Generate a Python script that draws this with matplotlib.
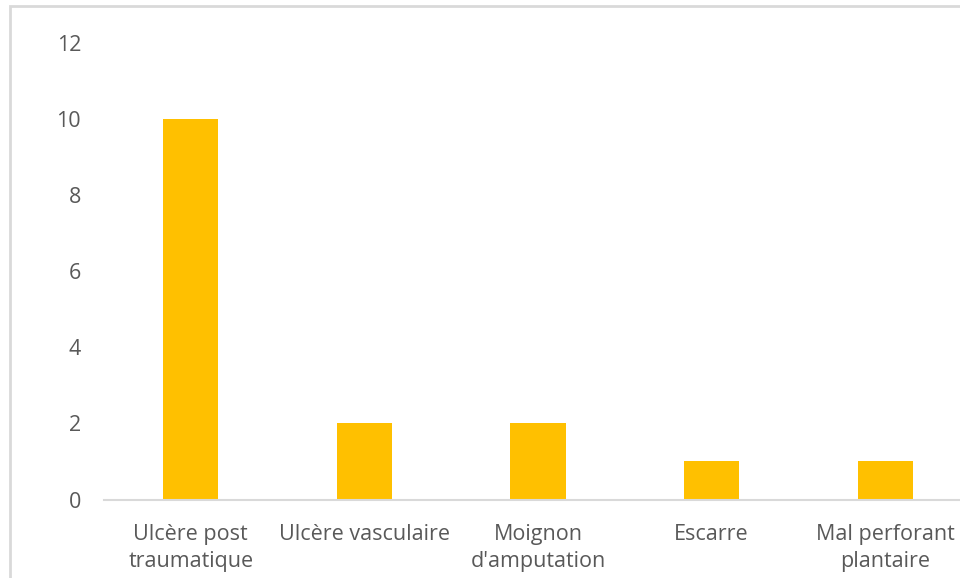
import matplotlib
matplotlib.use("Agg")
import matplotlib.pyplot as plt
from matplotlib.patches import Rectangle

categories = ["Ulcère post\ntraumatique", "Ulcère vasculaire", "Moignon\nd'amputation", "Escarre", "Mal perforant\nplantaire"]
values = [10, 2, 2, 1, 1]
yticks = [0, 2, 4, 6, 8, 10, 12]

plt.rcParams['font.family'] = ['Open Sans', 'DejaVu Sans']

fig = plt.figure(figsize=(9.6, 5.78), dpi=100)
W, H = 960, 578
ax = fig.add_axes([104 / W, 1 - 499.5 / H, (972 - 104) / W, (499.5 - 43) / H])

x = list(range(len(categories)))
ax.bar(x, values, width=0.317, color="#FFC000", zorder=2)
ax.set_xlim(-0.5, len(categories) - 0.5)
ax.set_ylim(0, 12)
ax.set_yticks(yticks)
ax.set_yticklabels([str(v) for v in yticks])
ax.set_xticks(x)
ax.set_xticklabels(categories, linespacing=1.4)

for s in ["top", "right", "left"]:
    ax.spines[s].set_visible(False)
ax.spines["bottom"].set_color("#D9D9D9")
ax.spines["bottom"].set_linewidth(1.5)
ax.tick_params(axis="both", length=0, labelsize=15.5, colors="#595959")
ax.tick_params(axis="y", pad=16.5)
ax.tick_params(axis="x", pad=17.5)
ax.set_clip_on(False)

# outer frame
fig.patches.append(Rectangle((10 / W, -0.1), 1.2, 1 - 6 / H + 0.1, transform=fig.transFigure,
                             fill=False, edgecolor="#D9D9D9", linewidth=2, zorder=0))

fig.savefig("out.png", dpi=100)
